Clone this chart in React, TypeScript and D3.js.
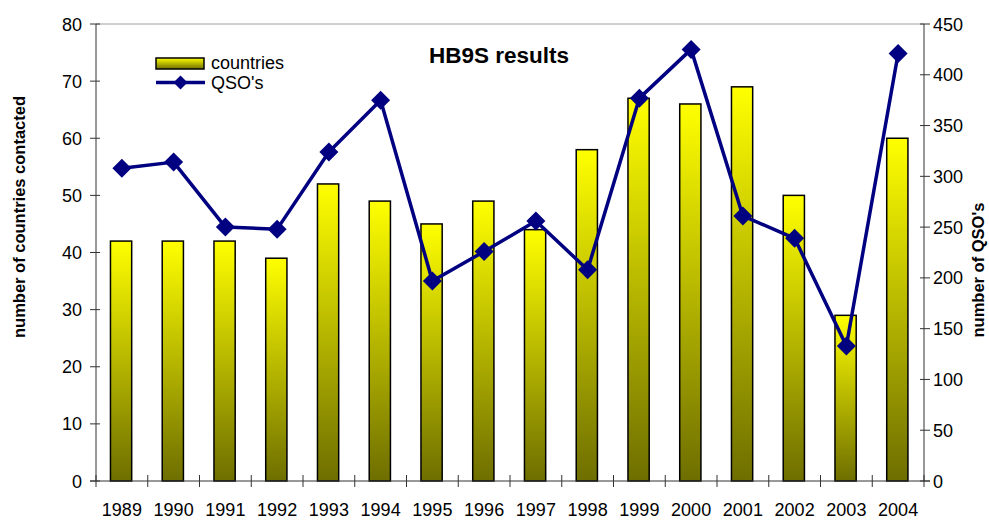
import React from "react";
import * as d3 from "d3";

const years = ["1989","1990","1991","1992","1993","1994","1995","1996","1997","1998","1999","2000","2001","2002","2003","2004"];
const countries = [42, 42, 42, 39, 52, 49, 45, 49, 44, 58, 67, 66, 69, 50, 29, 60];
const qsos = [308, 314, 250, 248, 324, 375, 197, 226, 256, 208, 377, 425, 261, 239, 133, 421];
const leftTicks = [0, 10, 20, 30, 40, 50, 60, 70, 80];
const rightTicks = [0, 50, 100, 150, 200, 250, 300, 350, 400, 450];

const W = 989, H = 520;
const L = 96, R = 924, T = 24, B = 481;
const FONT = "'Liberation Sans', Arial, sans-serif";

export default function App() {
  const x = d3.scaleBand<string>().domain(years).range([L, R]).paddingInner(0).paddingOuter(0);
  const yL = d3.scaleLinear().domain([0, 80]).range([B, T]);
  const yR = d3.scaleLinear().domain([0, 450]).range([B, T]);
  const bw = x.bandwidth() * 0.41;
  const line = d3.line<number>().x((_, i) => x(years[i])! + x.bandwidth() / 2).y(d => yR(d));
  const dia = (cx: number, cy: number, r: number) => `M${cx},${cy - r}L${cx + r},${cy}L${cx},${cy + r}L${cx - r},${cy}Z`;
  const boundaries = d3.range(years.length + 1).map(i => L + i * x.bandwidth());

  return (
    <svg width={W} height={H} style={{ position: "absolute", left: 0, top: 0 }} fontFamily={FONT}>
      <defs>
        <linearGradient id="barg" x1="0" y1="0" x2="0" y2="1">
          <stop offset="0" stopColor="#FFFF00" />
          <stop offset="1" stopColor="#6E6E00" />
        </linearGradient>
      </defs>
      <rect x={0} y={0} width={W} height={H} fill="#fff" />
      <line x1={L} x2={R} y1={T} y2={T} stroke="#a0a0a0" strokeWidth={1} />
      {countries.map((v, i) => (
        <rect key={i} x={x(years[i])! + x.bandwidth() / 2 - bw / 2 - 0.8} y={yL(v)} width={bw} height={B - yL(v)}
          fill="url(#barg)" stroke="#000" strokeWidth={1.5} />
      ))}
      {/* axes */}
      <line x1={L} x2={L} y1={T} y2={B} stroke="#333" strokeWidth={1} />
      <line x1={R} x2={R} y1={T} y2={B} stroke="#333" strokeWidth={1} />
      <line x1={L - 6} x2={R + 6} y1={B} y2={B} stroke="#333" strokeWidth={1} />
      {leftTicks.map(t => (
        <g key={t}>
          <line x1={L - 6} x2={L + 4} y1={yL(t)} y2={yL(t)} stroke="#333" />
          <text x={L - 14} y={yL(t) + 6.5} textAnchor="end" fontSize={18}>{t}</text>
        </g>
      ))}
      {rightTicks.map(t => (
        <g key={t}>
          <line x1={R - 4} x2={R + 6} y1={yR(t)} y2={yR(t)} stroke="#333" />
          <text x={R + 9} y={yR(t) + 6.5} textAnchor="start" fontSize={18}>{t}</text>
        </g>
      ))}
      {boundaries.map((bx, i) => (
        <line key={i} x1={bx} x2={bx} y1={B - 6} y2={B + 6} stroke="#333" />
      ))}
      {years.map(yy => (
        <text key={yy} x={x(yy)! + x.bandwidth() / 2} y={516} textAnchor="middle" fontSize={18}>{yy}</text>
      ))}
      {/* line */}
      <path d={line(qsos)!} fill="none" stroke="#000080" strokeWidth={3.5} strokeLinejoin="round" />
      {qsos.map((v, i) => (
        <path key={i} d={dia(x(years[i])! + x.bandwidth() / 2, yR(v), 9.5)} fill="#000080" />
      ))}
      {/* titles */}
      <text x={499} y={63} textAnchor="middle" fontSize={22.5} fontWeight="bold">HB9S results</text>
      <text transform="translate(25,217) rotate(-90)" textAnchor="middle" fontSize={16.5} fontWeight="bold">number of countries contacted</text>
      <text transform="translate(984,270) rotate(-90)" textAnchor="middle" fontSize={16.5} fontWeight="bold">number of QSO's</text>
      {/* legend */}
      <rect x={156} y={58} width={48} height={11} fill="url(#barg)" stroke="#000" strokeWidth={1.5} />
      <text x={211} y={69} fontSize={18}>countries</text>
      <line x1={156} x2={205} y1={82.5} y2={82.5} stroke="#000080" strokeWidth={3.5} />
      <path d={dia(180.5, 82.5, 7)} fill="#000080" />
      <text x={211} y={89} fontSize={18}>QSO's</text>
    </svg>
  );
}
